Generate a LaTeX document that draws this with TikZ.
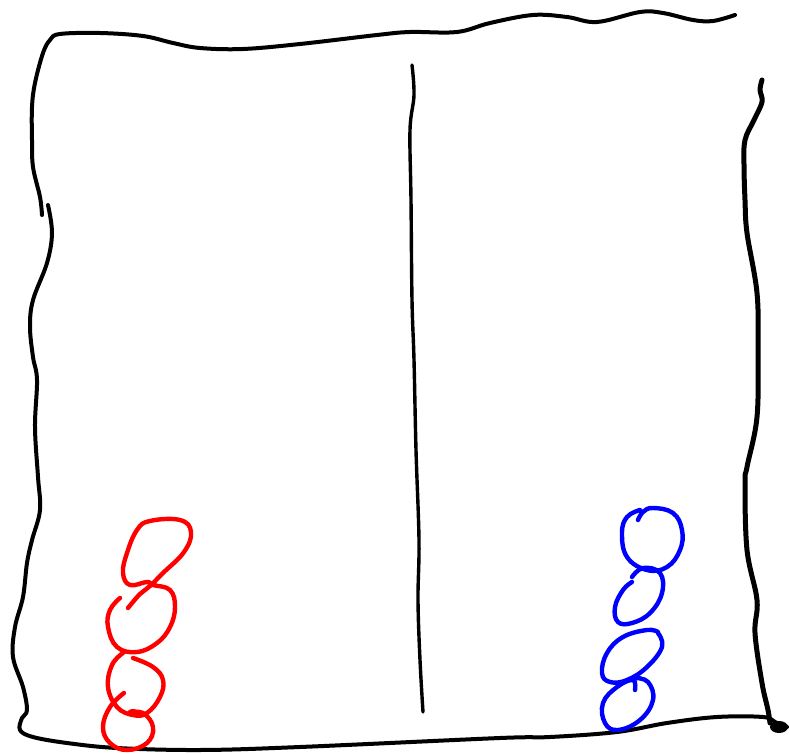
\documentclass[tikz,border=0pt]{standalone}
\begin{document}
\begin{tikzpicture}[x=1pt,y=-1pt,line cap=round,line join=round,
    pen/.style={line width=4pt,black},
    redpen/.style={line width=4.4pt,color=red},
    bluepen/.style={line width=4.4pt,color=blue}]
    \useasboundingbox (0,0) rectangle (790,754);
    % top edge and upper left side
    \draw[pen] plot[smooth,tension=0.6] coordinates {(42,215) (40,197) (33,167) (32,140) (32,107) (35,83) (43,53) (50,40) (60,34) (100,33) (143,36) (173,43) (200,48) (243,49) (300,44) (377,35) (410,32) (457,32) (490,23) (533,15) (567,17) (597,22) (640,12) (663,13) (693,20) (713,21) (735,15)};
    % lower left side and bottom edge
    \draw[pen] plot[smooth,tension=0.6] coordinates {(48,205) (52,233) (47,263) (33,300) (30,327) (33,357) (37,380) (35,427) (38,477) (40,510) (32,540) (27,563) (23,597) (15,627) (13,657) (23,687) (27,710) (22,718) (20,730) (33,737) (67,743) (117,748) (200,750) (300,747) (500,738) (550,737) (617,732) (667,723) (717,717) (763,717) (775,722) (787,727)};
    % right side
    \draw[line width=5pt] plot[smooth,tension=0.6] coordinates {(762,80) (760,90) (762,102) (754,120) (745,140) (744,165) (745,200) (747,233) (757,293) (758,350) (757,417) (747,467) (745,483) (747,550) (757,600) (755,633) (762,683) (768,710) (770,723)};
    \fill (779,727) ellipse (9pt and 6pt);
    % divider
    \draw[line width=3.4pt] plot[smooth,tension=0.6] coordinates {(412,65) (414,95) (410,130) (411,200) (412,300) (414,360) (416,450) (419,540) (418,600) (420,660) (423,712)};
    % red stack
    \draw[redpen] plot[smooth,tension=0.7] coordinates {(128,608) (140,594) (150,586) (163,573) (184,552) (191,532) (180,520) (150,521) (137,530) (127,553) (123,573) (130,585) (147,582) (153,585) (170,590) (175,607) (170,627) (157,643) (137,652) (117,647) (108,627) (110,610) (120,598)};
    \draw[redpen] plot[smooth,tension=0.7] coordinates {(133,658) (153,667) (163,680) (160,697) (147,713) (133,715) (117,707) (108,687) (112,665) (123,653)};
    \draw[redpen] plot[smooth,tension=0.7] coordinates {(124,693) (110,707) (103,727) (110,743) (127,750) (147,743) (153,727) (143,713) (130,713)};
    \fill[red] (133,713) ellipse (6pt and 4pt);
    % blue stack
    \draw[bluepen] plot[smooth,tension=0.7] coordinates {(638,520) (643,512) (653,508) (673,513) (682,530) (680,550) (667,567) (647,570) (627,557) (622,533) (627,517) (640,510)};
    \draw[bluepen] plot[smooth,tension=0.7] coordinates {(632,582) (623,590) (615,607) (618,622) (632,623) (650,613) (662,593) (660,573) (643,568) (632,577)};
    \draw[bluepen] plot[smooth,tension=0.7] coordinates {(658,632) (647,630) (623,637) (607,653) (602,673) (610,682) (627,680) (647,667) (662,647) (658,633)};
    \draw[bluepen] plot[smooth,tension=0.7] coordinates {(635,690) (633,680) (617,687) (603,703) (605,723) (618,730) (640,720) (653,700) (648,682) (635,678)};
\end{tikzpicture}
\end{document}
